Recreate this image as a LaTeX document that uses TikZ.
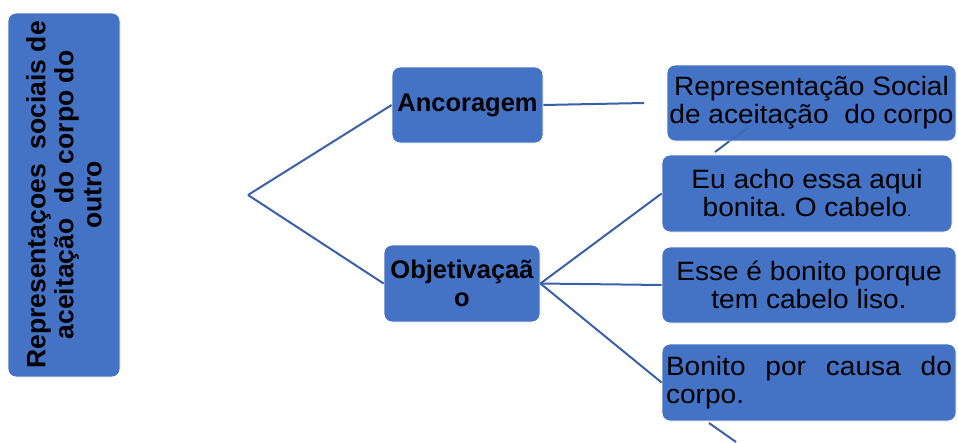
\documentclass[tikz,border=0pt]{standalone}
\usepackage{fontspec}
\setmainfont{Liberation Sans}
\newfontfamily\quotefont[FakeStretch=1.06]{Liberation Sans}
\usepackage{tikz}

\definecolor{boxblue}{RGB}{68,114,196}
\definecolor{linkblue}{RGB}{59,96,170}

\begin{document}
\frenchspacing
\begin{tikzpicture}[
    x=1pt, y=-1pt,
    box/.style={rectangle, rounded corners=8pt, fill=boxblue, draw=white, line width=0.8pt, inner sep=2pt, align=center, font=\quotefont\fontsize{26.5}{28}\selectfont},
    topic/.style={box, font=\bfseries\fontsize{25.5}{28}\selectfont},
    link/.style={draw=linkblue, line width=2pt},
]
    \useasboundingbox (0,0) rectangle (958,442);

    \node[topic, rotate=90, minimum width=364pt, minimum height=112pt, font=\bfseries\fontsize{26.5}{28}\selectfont] (main) at (64,195) {Representaçoes\ \ sociais de\\aceitação\ \ do corpo do\\outro};
    \node[topic, minimum width=151pt, minimum height=76pt] (anc) at (467.5,105) {Ancoragem};
    \node[topic, minimum width=156pt, minimum height=77pt] (obj) at (462,283.5) {Objetivaçaã\\o};

    \node[box, minimum width=289pt, minimum height=76pt] (repr) at (811.5,103) {Representação Social\\de aceitação\ \ do corpo};
    \node[box, minimum width=290pt, minimum height=77pt] (eu) at (807,193.5) {Eu acho essa aqui\\bonita. O cabelo{\fontsize{14}{28}\selectfont.}};
    \node[box, minimum width=294pt, minimum height=76pt] (esse) at (809,285) {Esse é bonito porque\\tem cabelo liso.};
    \node[box, minimum width=294pt, minimum height=77pt, text width=286pt, align=left] (bonito) at (809,382.5) {Bonito\hfill por\hfill causa\hfill do\\corpo.};

    \coordinate (fork) at (248,195);
    \coordinate (ancend) at (644,103);
    \coordinate (upa) at (715,152);
    \coordinate (upb) at (729,141.5);
    \coordinate (upc) at (749,127);
    \coordinate (downa) at (709,423);
    \coordinate (downb) at (736,442);

    \path (fork) edge[link] (anc.west);
    \path (fork) edge[link] (obj.west);
    \path (anc.east) edge[link] (ancend);
    \path (obj.east) edge[link] (eu.west);
    \path (obj.east) edge[link] (esse.west);
    \path (obj.east) edge[link] (bonito.west);
    \path (upa) edge[link] (upb);
    \path (upb) edge[link, opacity=0.45] (upc);
    \path (downa) edge[link] (downb);
\end{tikzpicture}
\end{document}
